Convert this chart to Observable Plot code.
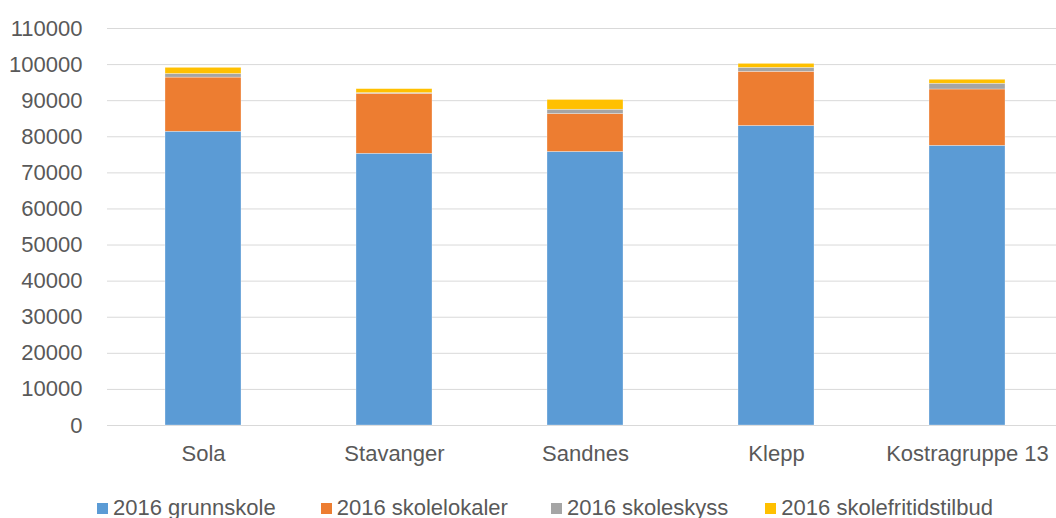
<!DOCTYPE html>
<html>
<head>
<meta charset="utf-8">
<script src="https://cdn.jsdelivr.net/npm/d3@7"></script>
<script src="https://cdn.jsdelivr.net/npm/@observablehq/plot@0.6"></script>
<style>
  html, body { margin: 0; padding: 0; background: #fff; }
  body { width: 1056px; height: 518px; overflow: hidden; font-family: "Liberation Sans", Arial, sans-serif; }
  #legend { display: flex; height: 40px; align-items: center; padding-left: 97px; padding-top: 20px; box-sizing: border-box; font-size: 22px; color: #595959; }
  #legend .item { display: flex; align-items: center; white-space: nowrap; }
  #legend .sw { width: 11px; height: 11px; margin-right: 5px; }
</style>
</head>
<body>
<div id="chart"></div>
<div id="legend"></div>
<script>
const categories = ["Sola", "Stavanger", "Sandnes", "Klepp", "Kostragruppe 13"];
const seriesNames = ["2016 grunnskole", "2016 skolelokaler", "2016 skoleskyss", "2016 skolefritidstilbud"];
const grunnskole = [81400, 75300, 75800, 83000, 77500];
const skolelokaler = [15000, 16600, 10500, 15000, 15600];
const skoleskyss = [1000, 200, 1200, 1100, 1600];
const skolefritidstilbud = [1700, 1100, 2700, 1100, 1100];
const yTicks = [0, 10000, 20000, 30000, 40000, 50000, 60000, 70000, 80000, 90000, 100000, 110000];
const colors = ["#5B9BD5", "#ED7D31", "#A5A5A5", "#FFC000"];

const seriesValues = [grunnskole, skolelokaler, skoleskyss, skolefritidstilbud];
const data = [];
seriesNames.forEach((s, si) => {
  categories.forEach((c, ci) => data.push({category: c, series: s, value: seriesValues[si][ci]}));
});

const chart = Plot.plot({
  width: 1056,
  height: 478,
  marginLeft: 107,
  marginRight: 0,
  marginTop: 28,
  marginBottom: 53,
  style: {fontFamily: "'Liberation Sans', Arial, sans-serif", fontSize: "22px", color: "#595959", background: "#fff"},
  x: {domain: categories, range: [105.5, 1064.5], paddingInner: 0.6, paddingOuter: 0.3, label: null},
  y: {domain: [0, 110000], label: null},
  color: {domain: seriesNames, range: colors},
  marks: [
    Plot.gridY(yTicks, {stroke: "#d9d9d9", strokeOpacity: 1, strokeWidth: 1}),
    Plot.barY(data, {x: "category", y: "value", fill: "series", order: seriesNames, stroke: "#fff", strokeWidth: 0.5, strokeOpacity: 0.6}),
    Plot.axisY(yTicks, {tickSize: 0, tickPadding: 25, tickFormat: d => String(d), fill: "#595959", fontSize: 22, label: null}),
    Plot.axisX({tickSize: 0, tickPadding: 20, fill: "#595959", fontSize: 22, label: null})
  ]
});
document.getElementById("chart").appendChild(chart);

const legend = document.getElementById("legend");
const gaps = [0, 45, 43, 37];
seriesNames.forEach((s, i) => {
  const item = document.createElement("div");
  item.className = "item";
  item.style.marginLeft = gaps[i] + "px";
  const sw = document.createElement("div");
  sw.className = "sw";
  sw.style.background = colors[i];
  const t = document.createElement("span");
  t.textContent = s;
  item.appendChild(sw);
  item.appendChild(t);
  legend.appendChild(item);
});
</script>
</body>
</html>
